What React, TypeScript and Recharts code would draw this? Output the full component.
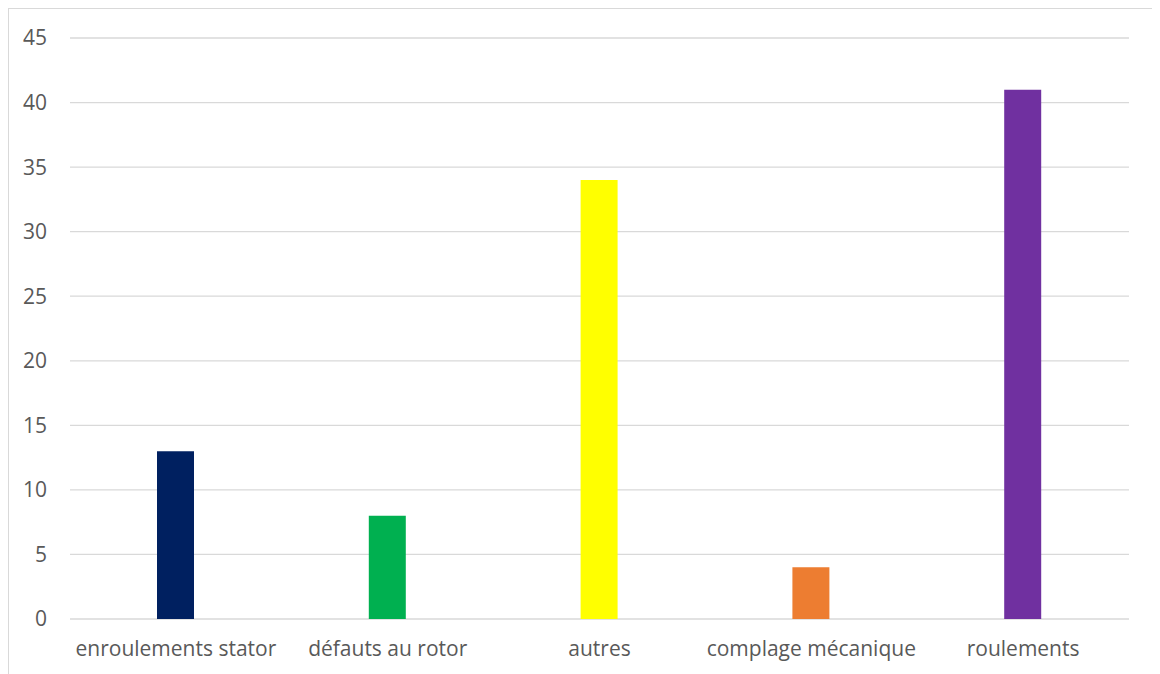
import { BarChart, Bar, XAxis, YAxis, CartesianGrid, Cell } from "recharts";

// categories and counts
const categories = [
  "enroulements stator",
  "défauts au rotor",
  "autres",
  "complage mécanique",
  "roulements",
];
const counts = [13, 8, 34, 4, 41];
const barColors = ["#002060", "#00B050", "#FFFF00", "#ED7D31", "#7030A0"];
const yTicks = [0, 5, 10, 15, 20, 25, 30, 35, 40, 45];

const data = categories.map((name, i) => ({ name, value: counts[i] }));

const font = "'Open Sans', sans-serif";

export default function App() {
  return (
    <div
      style={{
        width: 1150,
        height: 680,
        border: "1px solid #d9d9d9",
        background: "#fff",
        fontFamily: font,
      }}
    >
      <BarChart
        width={1150}
        height={680}
        data={data}
        margin={{ top: 29, right: 30, bottom: 0, left: 0 }}
      >
        <CartesianGrid vertical={false} stroke="#d9d9d9" strokeWidth={1.3} />
        <XAxis
          dataKey="name"
          axisLine={false}
          tickLine={false}
          tickSize={0}
          tickMargin={22}
          height={70}
          interval={0}
          tick={{ fill: "#595959", fontSize: 21, fontFamily: font }}
        />
        <YAxis
          domain={[0, 45]}
          ticks={yTicks}
          axisLine={false}
          tickLine={false}
          tickSize={0}
          tickMargin={23}
          width={61}
          tick={{ fill: "#595959", fontSize: 21, fontFamily: font }}
        />
        <Bar dataKey="value" barSize={37} isAnimationActive={false}>
          {data.map((d, i) => (
            <Cell key={d.name} fill={barColors[i]} />
          ))}
        </Bar>
      </BarChart>
    </div>
  );
}
